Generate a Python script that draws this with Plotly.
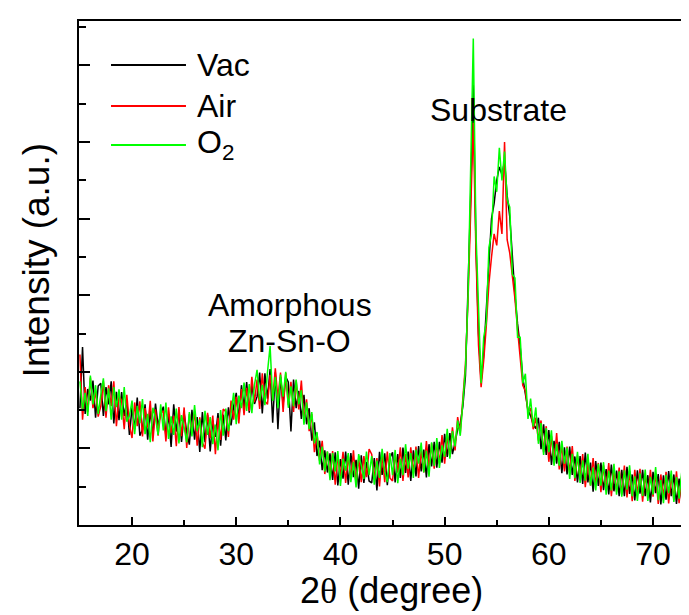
import numpy as np
import plotly.graph_objects as go

# ---- data ----
X_START = 15.0   # first 2-theta sample (degree)
X_STEP = 0.25    # sampling step (degree)

vac = [
    305, 465, 290, 355, 325, 377, 280, 363,
    370, 285, 360, 315, 375, 265, 348, 274,
    347, 285, 325, 235, 307, 250, 333, 233,
    249, 315, 223, 299, 233, 317, 259, 290,
    309, 233, 289, 204, 315, 244, 298, 217,
    292, 241, 210, 301, 223, 282, 191, 295,
    216, 288, 192, 273, 230, 292, 207, 288,
    221, 307, 260, 310, 345, 278, 365, 307,
    373, 293, 367, 316, 335, 398, 291, 396,
    330, 407, 267, 399, 250, 386, 315, 387,
    373, 244, 380, 305, 350, 277, 340, 263,
    305, 220, 268, 180, 220, 143, 195, 137,
    187, 118, 190, 103, 172, 121, 192, 105,
    188, 125, 170, 95, 182, 110, 165, 115,
    110, 175, 90, 191, 131, 187, 104, 175,
    190, 111, 185, 123, 202, 136, 192, 115,
    195, 127, 206, 140, 197, 124, 211, 153,
    217, 150, 217, 163, 238, 178, 240, 185,
    215, 250, 265, 310, 390, 600, 860, 1150,
    740, 500, 375, 445, 575, 670, 800, 840,
    900, 935, 915, 950, 860, 805, 700, 600,
    525, 465, 385, 345, 300, 285, 262, 252,
    280, 198, 263, 183, 248, 157, 220, 160,
    217, 135, 203, 132, 205, 131, 179, 111,
    180, 107, 189, 111, 163, 87, 167, 102,
    163, 91, 146, 80, 158, 88, 142, 75,
    144, 75, 152, 81, 132, 64, 143, 82,
    144, 75, 130, 59, 139, 83, 133, 54,
    130, 66, 141, 75, 132, 55, 121, 69,
    133, 58, 122, 59, 126, 51,
]

air = [
    445, 275, 360, 295, 385, 305, 350, 283,
    310, 375, 280, 365, 310, 375, 258, 337,
    325, 250, 340, 260, 227, 320, 258, 323,
    231, 305, 255, 324, 218, 302, 233, 295,
    297, 218, 307, 241, 285, 206, 308, 232,
    307, 201, 290, 244, 296, 207, 281, 215,
    199, 293, 227, 286, 185, 280, 222, 303,
    296, 230, 325, 275, 335, 265, 355, 287,
    358, 298, 387, 321, 380, 303, 396, 323,
    315, 392, 327, 409, 330, 398, 295, 397,
    313, 374, 295, 377, 302, 377, 272, 328,
    245, 290, 190, 240, 168, 220, 133, 192,
    127, 193, 105, 181, 127, 191, 110, 180,
    120, 195, 105, 175, 112, 180, 125, 198,
    185, 120, 175, 101, 186, 112, 192, 123,
    115, 186, 137, 203, 115, 186, 124, 203,
    135, 205, 123, 195, 137, 219, 148, 213,
    147, 215, 161, 235, 160, 233, 178, 255,
    195, 282, 240, 325, 420, 590, 820, 1050,
    720, 470, 360, 430, 520, 630, 700, 760,
    730, 820, 760, 1000, 745, 710, 650, 590,
    510, 445, 365, 350, 295, 305, 250, 280,
    220, 273, 190, 258, 165, 232, 160, 240,
    145, 210, 140, 205, 135, 206, 115, 181,
    120, 185, 99, 166, 103, 175, 104, 162,
    86, 156, 89, 162, 75, 146, 87, 150,
    79, 155, 72, 141, 62, 144, 78, 147,
    61, 133, 70, 144, 74, 135, 55, 132,
    72, 139, 56, 130, 65, 140, 57, 127,
    50, 128, 67, 139, 51, 131,
]

o2 = [
    375, 300, 345, 285, 390, 315, 365, 290,
    340, 383, 297, 357, 275, 360, 308, 354,
    275, 360, 270, 285, 325, 237, 311, 266,
    329, 237, 290, 216, 306, 280, 235, 315,
    247, 320, 225, 284, 235, 304, 213, 287,
    254, 216, 295, 231, 313, 245, 276, 203,
    298, 235, 282, 211, 262, 195, 300, 233,
    304, 245, 290, 345, 263, 338, 305, 372,
    298, 368, 292, 366, 405, 325, 366, 313,
    400, 467, 324, 386, 305, 393, 335, 400,
    306, 362, 310, 380, 315, 352, 262, 320,
    250, 295, 213, 243, 158, 205, 140, 192,
    117, 188, 140, 193, 102, 173, 142, 188,
    112, 165, 98, 185, 155, 120, 192, 130,
    180, 105, 168, 123, 199, 140, 112, 188,
    130, 196, 109, 173, 130, 211, 147, 188,
    123, 197, 160, 215, 137, 194, 126, 216,
    154, 227, 149, 208, 178, 251, 173, 245,
    205, 273, 233, 330, 410, 600, 910, 1270,
    770, 555, 370, 490, 530, 725, 760, 910,
    870, 985, 900, 975, 850, 830, 655, 645,
    490, 490, 370, 395, 277, 330, 257, 307,
    212, 266, 183, 253, 190, 247, 155, 212,
    155, 220, 160, 202, 120, 186, 122, 191,
    110, 169, 116, 186, 103, 150, 90, 160,
    103, 164, 79, 142, 90, 160, 79, 140,
    74, 143, 92, 156, 75, 127, 63, 135,
    76, 145, 63, 126, 79, 151, 65, 117,
    57, 131, 83, 142, 60, 125, 69, 137,
    63, 118, 55, 127, 71, 136,
]

series_names = ["Vac", "Air", "O<sub>2</sub>"]
series_colors = ["#000000", "#ff0000", "#00ff00"]
x_tick_vals = [20, 30, 40, 50, 60, 70]
x_tick_text = ["20", "30", "40", "50", "60", "70"]

FONT = "Liberation Sans, Arial, sans-serif"

fig = go.Figure()
for vals, name, col in zip([vac, air, o2], series_names, series_colors):
    x = X_START + X_STEP * np.arange(len(vals))
    fig.add_trace(go.Scatter(x=x, y=vals, mode="lines", name=name,
                             line=dict(color=col, width=1.5),
                             showlegend=False))

fig.update_layout(
    width=689, height=615,
    margin=dict(l=71, r=0, t=13, b=98),
    paper_bgcolor="white", plot_bgcolor="white",
    font=dict(family=FONT, color="black", size=32),
    xaxis=dict(range=[14.91, 74.22], tickvals=x_tick_vals, ticktext=x_tick_text,
               ticks="inside", ticklen=8, tickwidth=2, tickcolor="black",
               showline=True, linewidth=2, linecolor="black", mirror=True,
               showgrid=False, zeroline=False,
               tickfont=dict(size=32, family=FONT),
               minor=dict(dtick=5, tick0=0, ticks="inside", ticklen=5,
                          tickwidth=2, tickcolor="black", showgrid=False)),
    yaxis=dict(range=[0, 1316], dtick=200, tick0=0,
               ticks="inside", ticklen=11, tickwidth=2, tickcolor="black",
               showticklabels=False,
               showline=True, linewidth=2, linecolor="black", mirror=False,
               showgrid=False, zeroline=False,
               minor=dict(dtick=100, tick0=0, ticks="inside", ticklen=7,
                          tickwidth=2, tickcolor="black", showgrid=False)),
)

# legend drawn manually (long line samples as in the reference)
leg_y = [0.9127, 0.8313, 0.754]
for yy, name, col in zip(leg_y, series_names, series_colors):
    fig.add_shape(type="line", xref="paper", yref="paper",
                  x0=0.0518, x1=0.1731, y0=yy, y1=yy,
                  line=dict(color=col, width=2))
    fig.add_annotation(xref="paper", yref="paper", x=0.1877, y=yy,
                       xanchor="left", yanchor="middle", showarrow=False,
                       text=name, font=dict(size=32, family=FONT))

fig.add_annotation(xref="paper", yref="paper", x=0.6796, y=0.8234,
                   xanchor="center", yanchor="middle", showarrow=False,
                   text="Substrate", font=dict(size=32, family=FONT))
fig.add_annotation(xref="paper", yref="paper", x=0.3414, y=0.437,
                   xanchor="center", yanchor="middle", showarrow=False,
                   text="Amorphous", font=dict(size=32, family=FONT))
fig.add_annotation(xref="paper", yref="paper", x=0.3414, y=0.366,
                   xanchor="center", yanchor="middle", showarrow=False,
                   text="Zn-Sn-O", font=dict(size=32, family=FONT))

# axis titles
fig.add_annotation(xref="paper", yref="paper", x=0.505, y=-0.130,
                   xanchor="center", yanchor="middle", showarrow=False,
                   text="2<span style=\"font-family:'Liberation Serif', serif\">θ</span> (degree)",
                   font=dict(size=36, family=FONT))
fig.add_annotation(xref="paper", yref="paper", x=-0.0688, y=0.526,
                   xanchor="center", yanchor="middle", showarrow=False,
                   textangle=-90,
                   text="Intensity (a.u.)", font=dict(size=37, family=FONT))

fig.write_html("out.html")
